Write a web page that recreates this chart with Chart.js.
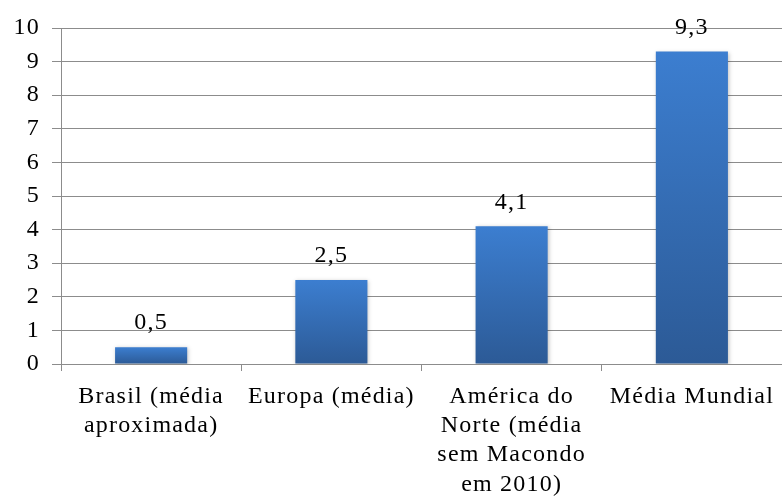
<!DOCTYPE html>
<html>
<head>
<meta charset="utf-8">
<script src="https://cdn.jsdelivr.net/npm/chart.js@4/dist/chart.umd.min.js"></script>
<style>
  html, body { margin: 0; padding: 0; background: #fff; }
  #wrap { width: 782px; height: 500px; }
</style>
</head>
<body>
<div id="wrap"><canvas id="chart" width="782" height="500"></canvas></div>
<script>
const CATEGORIES = [
  ['Brasil (média', 'aproximada)'],
  ['Europa (média)'],
  ['América do', 'Norte (média', 'sem Macondo', 'em 2010)'],
  ['Média Mundial']
]
const VALUES = [0.5, 2.5, 4.1, 9.3]
const VALUE_LABELS = ['0,5', '2,5', '4,1', '9,3']

const FONT = "'Liberation Serif', 'Times New Roman', serif"
const GRID = '#8c8c8c'

// vertical gradient per bar, from its top down to zero
function barFill(c) {
  const chart = c.chart
  if (!chart.chartArea) return '#3670BC'
  const y = chart.scales.y
  const top = y.getPixelForValue(c.raw)
  const bottom = y.getPixelForValue(0)
  const g = chart.ctx.createLinearGradient(0, top, 0, bottom)
  g.addColorStop(0, '#3C7ED0')
  g.addColorStop(1, '#2C5A96')
  return g
}

// slightly wider letter spacing for all chart text
const spacing = {
  id: 'spacing',
  beforeDraw(chart) {
    chart.ctx.letterSpacing = '1.2px'
  }
}

// value text above each bar
const valueLabels = {
  id: 'valueLabels',
  afterDatasetsDraw(chart) {
    const ctx = chart.ctx
    const meta = chart.getDatasetMeta(0)
    ctx.save()
    ctx.font = '24px ' + FONT
    ctx.fillStyle = '#000'
    ctx.textAlign = 'center'
    ctx.textBaseline = 'middle'
    meta.data.forEach((bar, i) => {
      ctx.fillText(VALUE_LABELS[i], bar.x, bar.y - 24)
    })
    ctx.restore()
  }
}

// soft drop shadow under the bars
const barShadow = {
  id: 'barShadow',
  beforeDatasetsDraw(chart) {
    const ctx = chart.ctx
    ctx.save()
    ctx.shadowColor = 'rgba(0,0,0,0.25)'
    ctx.shadowBlur = 4
    ctx.shadowOffsetX = 1
    ctx.shadowOffsetY = 1
  },
  afterDatasetsDraw(chart) {
    chart.ctx.restore()
  }
}

new Chart(document.getElementById('chart'), {
  type: 'bar',
  data: {
    labels: CATEGORIES,
    datasets: [{
      data: VALUES,
      backgroundColor: barFill,
      borderWidth: 0,
      categoryPercentage: 1,
      barPercentage: 0.4
    }]
  },
  options: {
    responsive: false,
    animation: false,
    layout: { padding: { top: 28, right: 0, left: 0, bottom: 0 } },
    plugins: {
      legend: { display: false },
      tooltip: { enabled: false }
    },
    scales: {
      x: {
        offset: true,
        afterFit: (s) => { s.height = 136 },
        grid: {
          offset: true,
          drawOnChartArea: false,
          drawTicks: true,
          tickLength: 7,
          color: GRID
        },
        border: { color: GRID },
        ticks: {
          color: '#000',
          padding: 11,
          maxRotation: 0,
          autoSkip: false,
          font: { family: FONT, size: 24, lineHeight: 1.22 }
        }
      },
      y: {
        min: 0,
        max: 10,
        afterFit: (s) => { s.width = 61 },
        grid: {
          color: GRID,
          tickLength: 9
        },
        border: { color: GRID },
        ticks: {
          stepSize: 1,
          color: '#000',
          padding: 12,
          font: { family: FONT, size: 24 }
        }
      }
    }
  },
  plugins: [spacing, barShadow, valueLabels]
})
</script>
</body>
</html>
